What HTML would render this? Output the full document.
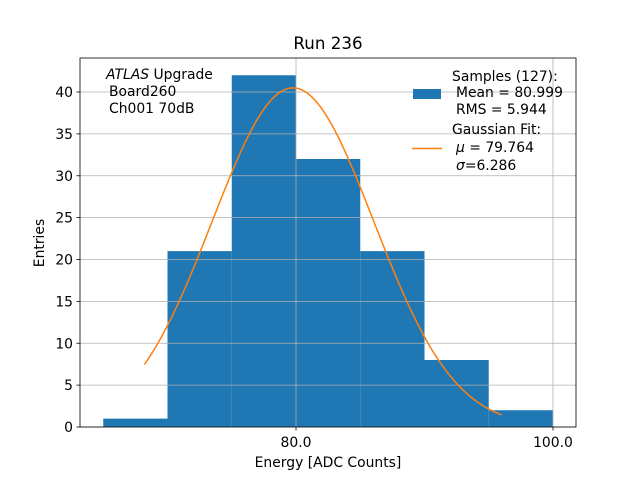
<!DOCTYPE html>
<html><head><meta charset="utf-8"><style>
body{margin:0;background:#fff}
svg text{font-family:"DejaVu Sans","Liberation Sans",sans-serif;fill:#000}
</style></head><body>
<svg id="chart" width="640" height="480" viewBox="0 0 640 480">
<rect width="640" height="480" fill="#fff"/>
<g id="bars"></g>
<g id="grid"></g>
<g id="curve"></g>
<g id="axes"></g>
</svg>
<script>
const binEdges=[65,70,75,80,85,90,95,100];
const counts=[1,21,42,32,21,8,2];
const xTicks=[80,100];
const xTickLabels=["80.0","100.0"];
const yTicks=[0,5,10,15,20,25,30,35,40];
const fitParams=[40.5,79.764,6.286];
const fitRange=[68.2,96.0];
const NS="http://www.w3.org/2000/svg";
const L=80,R=576,T=58,B=427;
const xMin=63.19,xMax=101.79,yMin=0,yMax=44.06;
const sx=v=>L+(v-xMin)/(xMax-xMin)*(R-L);
const sy=v=>B-(v-yMin)/(yMax-yMin)*(B-T);
function mk(tag,attrs,parent,text){const e=document.createElementNS(NS,tag);for(const k in attrs)e.setAttribute(k,attrs[k]);if(text!==undefined)e.textContent=text;parent.appendChild(e);return e;}
const gb=document.getElementById('bars');
counts.forEach((c,i)=>{
 const x0=sx(binEdges[i]),x1=sx(binEdges[i+1]);
 const r=mk('rect',{x:x0,y:sy(c),width:x1-x0,height:sy(0)-sy(c),fill:'#1f77b4'},gb);
 
 
});
const gg=document.getElementById('grid');
xTicks.forEach(t=>{const l=mk('line',{x1:sx(t),x2:sx(t),y1:T,y2:B,stroke:'#b0b0b0','stroke-width':0.8},gg);
 
 });
yTicks.forEach(t=>{const l=mk('line',{x1:L,x2:R,y1:sy(t),y2:sy(t),stroke:'#b0b0b0','stroke-width':0.8},gg);
 
 });
const gc=document.getElementById('curve');
let pts=[];
for(let i=0;i<=120;i++){const x=fitRange[0]+(fitRange[1]-fitRange[0])*i/120;
 const y=fitParams[0]*Math.exp(-Math.pow(x-fitParams[1],2)/(2*fitParams[2]*fitParams[2]));
 pts.push(sx(x).toFixed(2)+','+sy(y).toFixed(2));}
const pl=mk('polyline',{points:pts.join(' '),fill:'none',stroke:'#ff7f0e','stroke-width':1.5},gc);


const ga=document.getElementById('axes');
const fr=mk('rect',{x:L,y:T,width:R-L,height:B-T,fill:'none',stroke:'#000','stroke-width':0.8},ga);


xTicks.forEach((t,i)=>{mk('line',{x1:sx(t),x2:sx(t),y1:B,y2:B+3.5,stroke:'#000','stroke-width':0.8},ga);
 const tx=mk('text',{x:sx(t),y:B+20,'text-anchor':'middle','font-size':13.9},ga,xTickLabels[i]);
 
 });
yTicks.forEach(t=>{mk('line',{x1:L-3.5,x2:L,y1:sy(t),y2:sy(t),stroke:'#000','stroke-width':0.8},ga);
 const tx=mk('text',{x:L-7,y:sy(t)+5,'text-anchor':'end','font-size':13.9},ga,String(t));
 
 });
</script>
<svg width="640" height="480" style="position:absolute;left:0;top:0">
<text x="328" y="49" text-anchor="middle" font-size="16.7">Run 236</text>
<text x="328" y="467" text-anchor="middle" font-size="13.9">Energy [ADC Counts]</text>
<text transform="translate(44,243) rotate(-90)" text-anchor="middle" font-size="13.9">Entries</text>
<g font-size="13.9">
<text x="106" y="79"><tspan font-style="italic">ATLAS</tspan> Upgrade</text>
<text x="109" y="96">Board260</text>
<text x="109" y="113">Ch001 70dB</text>
</g>
<g font-size="13.9">
<rect x="413" y="89" width="28" height="10" fill="#1f77b4"/>
<text x="452" y="81">Samples (127):</text>
<text x="456" y="97">Mean = 80.999</text>
<text x="456" y="114">RMS = 5.944</text>
<line x1="412" x2="442" y1="148.5" y2="148.5" stroke="#ff7f0e" stroke-width="1.5"/>
<text x="452" y="134">Gaussian Fit:</text>
<text x="456" y="152"><tspan font-style="italic">μ</tspan> = 79.764</text>
<text x="456" y="170"><tspan font-style="italic">σ</tspan>=6.286</text>
</g>
</svg>
</body></html>
